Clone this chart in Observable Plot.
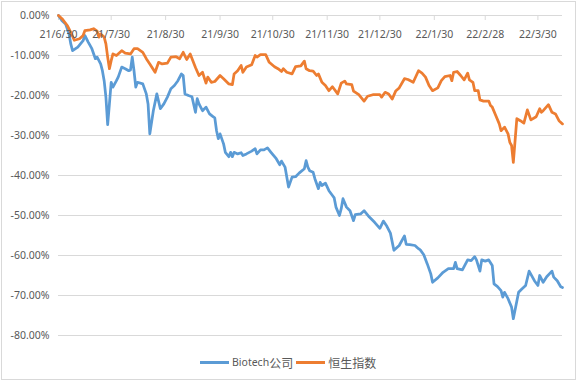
<!DOCTYPE html>
<html>
<head>
<meta charset="utf-8">
<script src="https://cdn.jsdelivr.net/npm/d3@7"></script>
<script src="https://cdn.jsdelivr.net/npm/@observablehq/plot@0.6"></script>
<style>
  html, body { margin: 0; padding: 0; background: #fff; }
  #frame { position: absolute; left: 1px; top: 1px; width: 573px; height: 377px; border: 1px solid #d9d9d9; }
  #chart { position: absolute; left: 0; top: 0; }
  #legend { position: absolute; top: 352px; left: 200px; height: 20px; display: flex; align-items: center;
            font-family: "Noto Sans", "Noto Sans CJK SC", sans-serif; font-size: 10.5px; color: #595959; white-space: nowrap; }
  #legend .sw { display: inline-block; width: 29px; height: 3px; margin-right: 3px; }
  #legend .cjk { font-family: "Noto Sans CJK SC", sans-serif; font-size: 12px; }
  #legend .item { display: flex; align-items: center; margin-right: 3px; }
</style>
</head>
<body>
<div id="frame"></div>
<div id="chart"></div>
<div id="legend"></div>
<script>
const seriesNames = ["Biotech公司", "恒生指数"];
const seriesColors = ["#5B9BD5", "#ED7D31"];

const xTickDates = ["2021-06-30","2021-07-30","2021-08-30","2021-09-30","2021-10-30","2021-11-30","2021-12-30","2022-01-30","2022-02-28","2022-03-30"];
const xTickLabels = ["21/6/30","21/7/30","21/8/30","21/9/30","21/10/30","21/11/30","21/12/30","22/1/30","22/2/28","22/3/30"];
const xDomain = ["2021-06-30", "2022-04-13"];
const yTicks = [0, -10, -20, -30, -40, -50, -60, -70, -80];

const bioDates = ["2021-06-30","2021-07-02","2021-07-04","2021-07-06","2021-07-07","2021-07-08","2021-07-11","2021-07-14","2021-07-15","2021-07-17","2021-07-19","2021-07-21","2021-07-22","2021-07-24","2021-07-25","2021-07-26","2021-07-27","2021-07-28","2021-07-29","2021-07-30","2021-07-31","2021-08-02","2021-08-03","2021-08-05","2021-08-07","2021-08-09","2021-08-10","2021-08-11","2021-08-12","2021-08-13","2021-08-14","2021-08-17","2021-08-19","2021-08-20","2021-08-21","2021-08-23","2021-08-25","2021-08-27","2021-08-29","2021-08-31","2021-09-02","2021-09-04","2021-09-06","2021-09-08","2021-09-09","2021-09-10","2021-09-12","2021-09-14","2021-09-16","2021-09-17","2021-09-18","2021-09-20","2021-09-22","2021-09-24","2021-09-26","2021-09-27","2021-09-28","2021-09-29","2021-09-30","2021-10-02","2021-10-03","2021-10-05","2021-10-06","2021-10-07","2021-10-08","2021-10-10","2021-10-12","2021-10-13","2021-10-15","2021-10-18","2021-10-20","2021-10-21","2021-10-23","2021-10-25","2021-10-27","2021-10-29","2021-11-01","2021-11-03","2021-11-04","2021-11-06","2021-11-08","2021-11-10","2021-11-12","2021-11-14","2021-11-17","2021-11-18","2021-11-19","2021-11-20","2021-11-22","2021-11-23","2021-11-25","2021-11-26","2021-11-27","2021-11-29","2021-12-01","2021-12-03","2021-12-04","2021-12-05","2021-12-07","2021-12-08","2021-12-09","2021-12-11","2021-12-13","2021-12-15","2021-12-16","2021-12-19","2021-12-21","2021-12-24","2021-12-27","2021-12-30","2022-01-01","2022-01-03","2022-01-05","2022-01-07","2022-01-10","2022-01-13","2022-01-14","2022-01-16","2022-01-19","2022-01-21","2022-01-22","2022-01-24","2022-01-26","2022-01-28","2022-01-29","2022-02-01","2022-02-04","2022-02-07","2022-02-10","2022-02-11","2022-02-12","2022-02-15","2022-02-18","2022-02-20","2022-02-22","2022-02-23","2022-02-25","2022-02-26","2022-02-28","2022-03-02","2022-03-04","2022-03-05","2022-03-07","2022-03-09","2022-03-10","2022-03-11","2022-03-13","2022-03-15","2022-03-16","2022-03-19","2022-03-21","2022-03-23","2022-03-25","2022-03-28","2022-03-30","2022-03-31","2022-04-02","2022-04-04","2022-04-07","2022-04-08","2022-04-10","2022-04-12","2022-04-13"];
const bioValues = [0,-1.3,-2.1,-4.6,-7.1,-8.8,-7.9,-6.3,-5.0,-6.7,-8.3,-10.8,-10.4,-12.1,-13.8,-16.3,-20.4,-27.3,-22.1,-16.7,-17.9,-16.3,-15.4,-12.9,-13.3,-13.8,-13.6,-10.4,-13.8,-17.9,-16.7,-17.1,-19.6,-22.1,-29.6,-23.8,-19.6,-23.3,-22.1,-20.4,-18.3,-17.5,-16.3,-14.6,-15.0,-19.6,-20.0,-20.3,-24.2,-20.8,-22.1,-23.8,-22.9,-24.6,-25.3,-25.6,-28.8,-30.8,-29.6,-32.1,-34.2,-35.3,-34.2,-35.3,-34.2,-34.6,-34.3,-35.0,-34.6,-33.9,-33.3,-34.6,-33.6,-33.6,-33.1,-34.2,-35.8,-37.3,-36.4,-37.9,-42.9,-40.4,-40.3,-39.4,-38.3,-36.3,-37.9,-38.8,-39.2,-40.8,-43.3,-41.7,-42.5,-41.9,-43.8,-45.0,-45.6,-47.9,-50.0,-48.3,-45.8,-47.9,-48.8,-51.3,-49.8,-49.6,-48.8,-50.4,-51.7,-53.2,-51.4,-52.7,-54.4,-58.7,-57.5,-55.1,-57.2,-57.3,-57.5,-58.3,-58.6,-59.8,-62.1,-64.6,-66.7,-65.6,-64.2,-63.3,-63.3,-61.7,-63.3,-63.6,-61.1,-61.3,-60.3,-61.1,-63.9,-61.1,-61.4,-61.1,-62.5,-67.1,-67.8,-68.8,-70.4,-69.2,-70.8,-72.9,-75.8,-69.2,-68.3,-67.5,-63.9,-66.3,-67.5,-65.0,-66.7,-65.3,-63.9,-65.4,-66.3,-67.8,-68.0];

const hsiDates = ["2021-06-30","2021-07-02","2021-07-05","2021-07-07","2021-07-09","2021-07-12","2021-07-14","2021-07-15","2021-07-18","2021-07-20","2021-07-22","2021-07-23","2021-07-24","2021-07-26","2021-07-27","2021-07-28","2021-07-29","2021-07-30","2021-07-31","2021-08-02","2021-08-05","2021-08-07","2021-08-10","2021-08-12","2021-08-14","2021-08-17","2021-08-19","2021-08-21","2021-08-24","2021-08-26","2021-08-28","2021-08-31","2021-09-02","2021-09-05","2021-09-07","2021-09-09","2021-09-11","2021-09-13","2021-09-16","2021-09-18","2021-09-20","2021-09-22","2021-09-23","2021-09-25","2021-09-27","2021-09-30","2021-10-02","2021-10-05","2021-10-07","2021-10-08","2021-10-10","2021-10-12","2021-10-13","2021-10-15","2021-10-18","2021-10-20","2021-10-21","2021-10-23","2021-10-26","2021-10-28","2021-10-31","2021-11-02","2021-11-04","2021-11-05","2021-11-07","2021-11-10","2021-11-12","2021-11-15","2021-11-17","2021-11-18","2021-11-20","2021-11-22","2021-11-24","2021-11-25","2021-11-27","2021-11-29","2021-12-01","2021-12-03","2021-12-06","2021-12-08","2021-12-10","2021-12-11","2021-12-14","2021-12-15","2021-12-18","2021-12-21","2021-12-23","2021-12-26","2021-12-30","2021-12-31","2022-01-02","2022-01-04","2022-01-06","2022-01-08","2022-01-10","2022-01-13","2022-01-15","2022-01-18","2022-01-21","2022-01-23","2022-01-25","2022-01-27","2022-01-29","2022-02-01","2022-02-03","2022-02-05","2022-02-08","2022-02-09","2022-02-10","2022-02-12","2022-02-14","2022-02-16","2022-02-18","2022-02-19","2022-02-21","2022-02-22","2022-02-24","2022-02-25","2022-02-27","2022-03-02","2022-03-03","2022-03-04","2022-03-06","2022-03-08","2022-03-09","2022-03-11","2022-03-13","2022-03-14","2022-03-15","2022-03-16","2022-03-18","2022-03-20","2022-03-22","2022-03-24","2022-03-26","2022-03-29","2022-03-31","2022-04-01","2022-04-02","2022-04-05","2022-04-07","2022-04-09","2022-04-11","2022-04-13"];
const hsiValues = [0,-0.8,-2.5,-4.2,-6.2,-5.8,-5.0,-3.8,-3.6,-3.3,-3.9,-5.4,-4.6,-5.4,-7.1,-10.4,-13.3,-11.3,-9.6,-10.0,-8.8,-9.4,-9.6,-8.3,-8.3,-9.2,-10.8,-12.1,-14.2,-11.7,-12.1,-11.9,-10.4,-10.3,-10.8,-9.2,-11.0,-9.6,-13.0,-15.0,-14.2,-16.9,-15.4,-16.7,-16.5,-15.0,-15.8,-17.1,-17.3,-14.6,-13.8,-12.5,-14.2,-12.9,-12.3,-10.0,-10.4,-9.8,-9.8,-11.7,-12.8,-13.3,-14.0,-13.3,-14.2,-14.6,-12.8,-12.6,-11.4,-13.3,-13.8,-13.9,-15.0,-14.6,-16.7,-17.5,-18.8,-17.8,-19.6,-16.9,-16.4,-17.1,-17.3,-18.9,-19.8,-21.4,-20.2,-19.8,-19.8,-20.4,-19.2,-19.6,-20.9,-18.9,-18.1,-15.8,-16.0,-16.7,-13.8,-14.4,-15.4,-17.5,-18.8,-18.1,-16.3,-15.3,-15.0,-16.3,-14.2,-14.0,-15.0,-16.1,-14.4,-16.1,-16.7,-18.8,-18.8,-21.1,-21.4,-21.4,-22.5,-22.9,-25.0,-27.1,-28.8,-27.9,-29.6,-31.7,-32.5,-36.7,-25.8,-26.3,-26.9,-23.6,-26.1,-25.3,-23.3,-24.2,-23.8,-22.3,-24.2,-24.6,-26.3,-27.1];

const parse = d3.utcParse("%Y-%m-%d");
const bio = bioDates.map((d, i) => ({date: parse(d), value: bioValues[i]}));
const hsi = hsiDates.map((d, i) => ({date: parse(d), value: hsiValues[i]}));
const xTicks = xTickDates.map((d, i) => ({date: parse(d), label: xTickLabels[i]}));
const fmtPct = d => (d * 1).toFixed(2) + "%";

const chart = Plot.plot({
  width: 577,
  height: 345,
  marginLeft: 58,
  marginRight: 15,
  marginTop: 15,
  marginBottom: 10,
  style: {fontFamily: "'Noto Sans', sans-serif", fontSize: "10.5px", color: "#595959", background: "transparent", overflow: "visible"},
  x: {type: "utc", domain: xDomain.map(parse), axis: null},
  y: {domain: [-80, 0], axis: null},
  marks: [
    Plot.ruleY(yTicks, {stroke: "#d9d9d9", strokeWidth: 1}),
    Plot.tickX(xTicks, {x: "date", stroke: "#d9d9d9", strokeWidth: 1, insetBottom: 315}),
    Plot.text(yTicks, {y: d => d, frameAnchor: "left", dx: -9, textAnchor: "end", text: fmtPct, fill: "#595959"}),
    Plot.line(bio, {x: "date", y: "value", stroke: seriesColors[0], strokeWidth: 2.75, strokeLinejoin: "round", strokeLinecap: "round"}),
    Plot.line(hsi, {x: "date", y: "value", stroke: seriesColors[1], strokeWidth: 2.75, strokeLinejoin: "round", strokeLinecap: "round"}),
    Plot.text(xTicks, {x: "date", frameAnchor: "top", dy: 15, text: "label", fill: "#595959"})
  ]
});
document.getElementById("chart").appendChild(chart);

const legend = document.getElementById("legend");
seriesNames.forEach((name, i) => {
  const item = document.createElement("span");
  item.className = "item";
  const sw = document.createElement("span");
  sw.className = "sw";
  sw.style.background = seriesColors[i];
  item.appendChild(sw);
  const m = name.match(/^([A-Za-z]*)(.*)$/);
  if (m[1]) {
    const t = document.createElement("span");
    t.textContent = m[1];
    item.appendChild(t);
  }
  const c = document.createElement("span");
  c.className = "cjk";
  c.textContent = m[2];
  item.appendChild(c);
  legend.appendChild(item);
});
</script>
</body>
</html>
